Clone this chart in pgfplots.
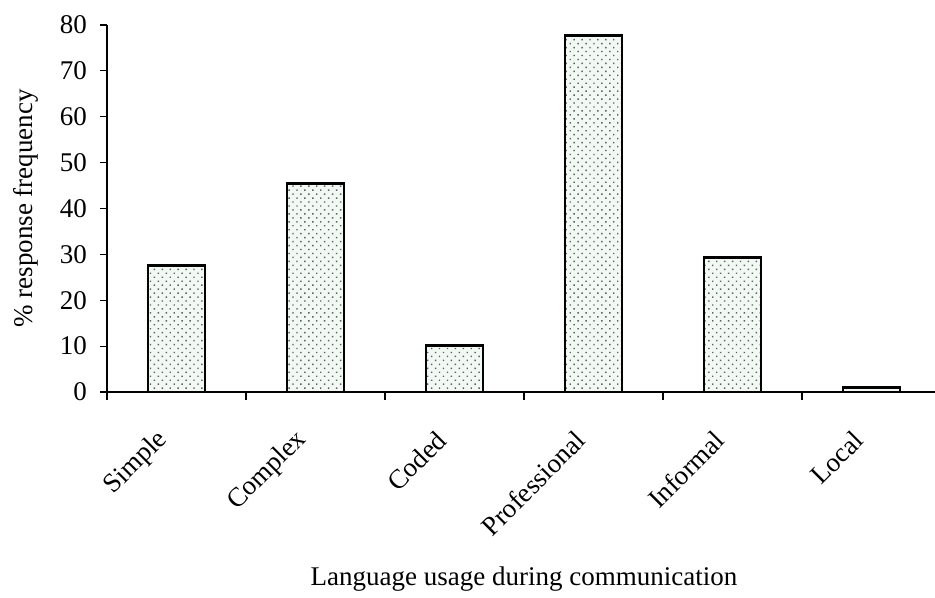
\documentclass[border=0pt]{standalone}
\usepackage{pgfplots}
\pgfplotsset{compat=1.18}
\usepackage{fontspec}
\setmainfont{Liberation Serif}
\usetikzlibrary{patterns.meta}
\definecolor{barfill}{RGB}{242,249,244}

\begin{document}
\begin{tikzpicture}
\begin{axis}[
    at={(0,0)}, anchor=south west,
    scale only axis,
    width=417pt, height=183.5pt,
    axis x line=bottom, axis y line=left,
    axis line style={-, line width=0.6pt},
    ymin=0, ymax=80, ytick={0,10,...,80},
    xmin=-0.5, xmax=5.5,
    xtick={0,1,2,3,4,5},
    xticklabels={Simple,Complex,Coded,Professional,Informal,Local},
    minor xtick={-0.5,0.5,...,5.5},
    major x tick style={draw=none},
    tick align=outside,
    major tick length=3.5pt, minor tick length=4pt,
    tick style={black, line width=0.6pt},
    ticklabel style={font=\fontsize{13.5}{16}\selectfont},
    /pgf/number format/assume math mode=true,
    yticklabel style={xshift=-3pt},
    xticklabel style={xshift=-4pt, yshift=-16pt, rotate=45, anchor=east},
    ylabel={\% response frequency},
    ylabel style={at={(axis description cs:-0.097,0.5)}, anchor=center, font=\fontsize{13.5}{16}\selectfont},
    xlabel={Language usage during communication},
    xlabel style={at={(axis description cs:0.5,0)}, anchor=base, yshift=-96.5pt, font=\fontsize{13.5}{16}\selectfont},
    clip=false,
    ]
\addplot [ybar, bar width=0.41, draw=black, line width=1.4pt, fill=barfill,
    postaction={pattern={Dots[angle=45, distance=2.8pt, radius=0.5pt]}, pattern color=gray!75!black}]
    coordinates {(0,27.6) (1,45.5) (2,10.2) (3,77.7) (4,29.3) (5,1.0)};
\end{axis}
\pgfresetboundingbox
\path (-53.5pt,-103pt) rectangle (414pt,196pt);
\end{tikzpicture}
\end{document}
